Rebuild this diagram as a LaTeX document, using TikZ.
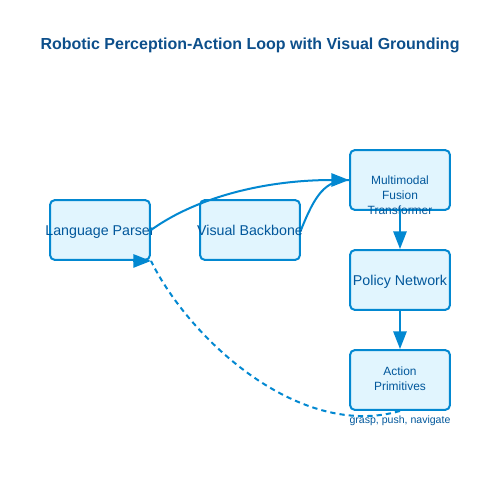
\documentclass[tikz,border=0pt]{standalone}
\usepackage{fontspec}
\setmainfont{Liberation Sans}
\usetikzlibrary{arrows.meta}
\definecolor{boxfill}{HTML}{E1F5FE}
\definecolor{boxline}{HTML}{0288D1}
\definecolor{boxtext}{HTML}{01579B}
\definecolor{titlec}{HTML}{0D4F8B}
\begin{document}
\begin{tikzpicture}[x=0.02cm,y=-0.02cm,
  box/.style={draw=boxline,fill=boxfill,line width=1.14pt,rounded corners=2.8pt,minimum width=56.9pt,minimum height=34.1pt,inner sep=0pt},
  btext/.style={text=boxtext,font=\fontsize{8.1}{9.5}\selectfont,inner sep=0pt,anchor=base},
  stext/.style={text=boxtext,font=\fontsize{6.8}{8.55}\selectfont,inner sep=0pt,align=center},
  conn/.style={draw=boxline,line width=1.14pt,-{Triangle[length=10pt,width=7.5pt]}},
  conn2/.style={draw=boxline,line width=1.14pt}
]
\useasboundingbox (0,0) rectangle (500,500);
\node[font=\bfseries\fontsize{9.1}{11}\selectfont,text=titlec] (title) at (250,45) {Robotic Perception-Action Loop with Visual Grounding};
\node[box] (lp) at (100,230) {};
\node[box] (vb) at (250,230) {};
\node[box] (mm) at (400,180) {};
\node[box] (pn) at (400,280) {};
\node[box] (ap) at (400,380) {};
\node[btext] (lpt) at (100,235) {Language Parser};
\node[btext] (vbt) at (250,235) {Visual Backbone};
\node[btext] (pnt) at (400,285) {Policy Network};
\node[stext] (mmt) at (400,195) {Multimodal\\Fusion\\Transformer};
\node[stext] (apt) at (400,378.5) {Action\\Primitives};
\node[text=boxtext,font=\fontsize{6}{7}\selectfont,inner sep=0pt] (lbl) at (400,421) {grasp, push, navigate};
\coordinate (lpe) at (lp.east);
\coordinate (mmw) at (mm.west);
\draw[conn] (lpe) .. controls (200,195) and (270,180) .. (mmw);
\draw[conn2] (vb.east) .. controls (315,195) and (325,180) .. (mmw);
\draw[conn] (mm.south) -- (pn.north);
\draw[conn] (pn.south) -- (ap.north);
\coordinate (lpc) at (lp.south east);
\coordinate (lpb) at ([xshift=-18*0.569pt]lp.south east);
\draw[conn2,dash pattern=on 3pt off 2.3pt] (ap.south) .. controls (300,440) and (190,340) .. (lpc);
\draw[conn] (lpb) -- (lpc);
\end{tikzpicture}
\end{document}
